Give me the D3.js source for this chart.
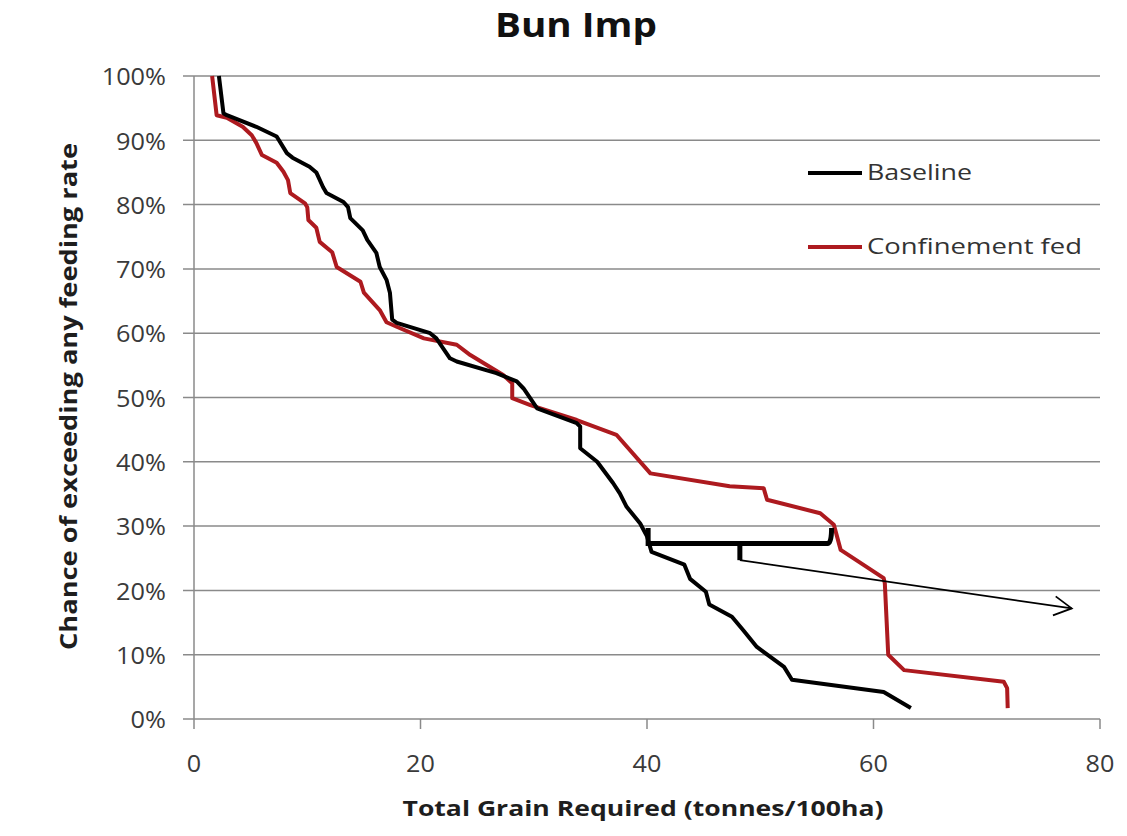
<!DOCTYPE html>
<html>
<head>
<meta charset="utf-8">
<script src="https://cdn.jsdelivr.net/npm/d3@7"></script>
<style>
  html, body { margin: 0; padding: 0; background: #fff; }
  svg { display: block; font-family: "Open Sans", Lato, sans-serif; }
</style>
</head>
<body>
<svg id="chart" width="1127" height="836"></svg>
<script>
// ---- Data ----
const xTicks = [0, 20, 40, 60, 80];
const yTicks = [0, 10, 20, 30, 40, 50, 60, 70, 80, 90, 100];

const baselineX = [2.2, 2.6, 2.9, 5.5, 7.3, 8.2, 8.7, 10.2, 10.8, 11.4, 11.7, 13.2, 13.6, 13.8, 14.9, 15.3, 16.1, 16.4, 17.0, 17.3, 17.5, 17.9, 20.85, 21.4, 22.6, 23.2, 26.7, 28.5, 29.1, 30.3, 33.8, 34.1, 34.1, 35.6, 37.0, 37.6, 38.2, 39.4, 40.0, 40.4, 43.3, 43.8, 45.2, 45.5, 47.5, 48.5, 49.7, 52.1, 52.8, 60.9, 63.3];
const baselineY = [100, 94.2, 93.9, 92.1, 90.6, 88.0, 87.3, 85.9, 85.0, 82.7, 81.8, 80.4, 79.6, 77.9, 76.0, 74.5, 72.5, 70.3, 68.3, 66.3, 62.1, 61.6, 60.0, 59.2, 56.1, 55.6, 53.8, 52.5, 51.4, 48.3, 46.0, 45.5, 42.1, 40.0, 36.7, 35.1, 33.0, 30.4, 28.4, 26.0, 24.0, 21.8, 19.8, 17.8, 15.9, 13.8, 11.2, 8.1, 6.1, 4.2, 1.7];

const confinedX = [1.6, 2.0, 2.9, 4.3, 5.1, 5.5, 6.0, 7.3, 7.9, 8.3, 8.5, 9.8, 10.0, 10.1, 10.8, 11.1, 12.2, 12.6, 14.7, 15.0, 16.4, 17.0, 17.9, 20.3, 23.2, 24.4, 27.3, 28.1, 28.1, 29.7, 33.8, 37.3, 40.3, 47.3, 50.3, 50.6, 55.3, 56.5, 57.1, 60.9, 61.0, 61.3, 62.7, 71.5, 71.8, 71.85];
const confinedY = [100, 93.9, 93.5, 92.1, 90.8, 89.6, 87.7, 86.5, 85.1, 83.8, 81.8, 80.2, 79.6, 77.6, 76.4, 74.2, 72.6, 70.3, 68.0, 66.3, 63.6, 61.7, 61.0, 59.2, 58.2, 56.6, 53.5, 52.2, 49.9, 48.8, 46.5, 44.2, 38.2, 36.2, 35.9, 34.1, 32.0, 30.2, 26.3, 21.9, 21.1, 10.0, 7.6, 5.8, 4.8, 1.7];

const seriesNames = ["Baseline", "Confinement fed"];
const seriesColors = ["#000000", "#ad1a1f"];

// Hand-drawn annotation (bracket + arrow), in data units
const bracketX = [40.1, 56.3];
const bracketY = [29.7, 27.3];
const stemX = 48.2;
const stemBottomY = 24.7;
const arrowTip = [77.5, 17.2];

// ---- Layout ----
const svg = d3.select("#chart");
const m = { left: 194, right: 1100, top: 76, bottom: 719 };

const x = d3.scaleLinear().domain([0, 80]).range([m.left, m.right]);
const y = d3.scaleLinear().domain([0, 100]).range([m.bottom, m.top]);

// stretch helper: widen text horizontally like the reference
function stretch(sel, k) {
  sel.each(function () {
    const w = this.getComputedTextLength();
    d3.select(this).attr("textLength", w * k).attr("lengthAdjust", "spacingAndGlyphs");
  });
}

// gridlines
svg.append("g").selectAll("line").data(yTicks).join("line")
  .attr("x1", m.left - 11).attr("x2", m.right)
  .attr("y1", d => y(d)).attr("y2", d => y(d))
  .attr("stroke", "#8a8a8a").attr("stroke-width", 1.5);

// y axis line
svg.append("line")
  .attr("x1", m.left).attr("x2", m.left)
  .attr("y1", m.top).attr("y2", m.bottom)
  .attr("stroke", "#8a8a8a").attr("stroke-width", 1.5);

// x ticks
svg.append("g").selectAll("line").data(xTicks).join("line")
  .attr("x1", d => x(d)).attr("x2", d => x(d))
  .attr("y1", m.bottom).attr("y2", m.bottom + 10)
  .attr("stroke", "#8a8a8a").attr("stroke-width", 1.5);

// tick labels
svg.append("g").selectAll("text").data(yTicks).join("text")
  .attr("x", 166).attr("y", d => y(d) + 1)
  .attr("dy", "0.36em").attr("text-anchor", "end")
  .attr("font-size", 23).attr("fill", "#3a3a3a")
  .text(d => d + "%")
  .call(stretch, 1.1);

svg.append("g").selectAll("text").data(xTicks).join("text")
  .attr("x", d => x(d)).attr("y", 772)
  .attr("text-anchor", "middle")
  .attr("font-size", 24).attr("fill", "#3a3a3a")
  .text(d => d)
  .call(stretch, 1.05);

// title
svg.append("text").attr("x", 576).attr("y", 37)
  .attr("text-anchor", "middle").attr("font-size", 34).attr("font-weight", "bold")
  .attr("fill", "#111").text("Bun Imp")
  .attr("textLength", 162).attr("lengthAdjust", "spacingAndGlyphs");

// axis titles
svg.append("text").attr("x", 643).attr("y", 816)
  .attr("text-anchor", "middle").attr("font-size", 22).attr("font-weight", "bold")
  .attr("fill", "#1e1e1e").text("Total Grain Required (tonnes/100ha)")
  .attr("textLength", 481).attr("lengthAdjust", "spacingAndGlyphs");

svg.append("text")
  .attr("transform", `translate(77,${(143 + 650) / 2}) rotate(-90)`)
  .attr("text-anchor", "middle").attr("font-size", 23).attr("font-weight", "bold")
  .attr("fill", "#1e1e1e").text("Chance of exceeding any feeding rate")
  .attr("textLength", 507).attr("lengthAdjust", "spacingAndGlyphs");

// lines
const line = d3.line().x(d => x(d[0])).y(d => y(d[1]));
const series = [
  d3.zip(baselineX, baselineY),
  d3.zip(confinedX, confinedY)
];
svg.append("path").datum(series[1]).attr("d", line)
  .attr("fill", "none").attr("stroke", seriesColors[1]).attr("stroke-width", 4)
  .attr("stroke-linejoin", "round");
svg.append("path").datum(series[0]).attr("d", line)
  .attr("fill", "none").attr("stroke", seriesColors[0]).attr("stroke-width", 4)
  .attr("stroke-linejoin", "round");

// annotation bracket
const bracket = d3.path();
bracket.moveTo(x(bracketX[0]), y(bracketY[0]));
bracket.lineTo(x(bracketX[0]), y(bracketY[1]));
bracket.lineTo(x(bracketX[1]) - 4, y(bracketY[1]));
bracket.quadraticCurveTo(x(bracketX[1]), y(bracketY[1]), x(bracketX[1]), y(bracketY[0]));
svg.append("path").attr("d", bracket.toString())
  .attr("fill", "none").attr("stroke", "#000").attr("stroke-width", 5);
svg.append("line")
  .attr("x1", x(stemX)).attr("x2", x(stemX))
  .attr("y1", y(bracketY[1])).attr("y2", y(stemBottomY))
  .attr("stroke", "#000").attr("stroke-width", 5);

// arrow
svg.append("line")
  .attr("x1", x(stemX)).attr("y1", y(stemBottomY))
  .attr("x2", x(arrowTip[0])).attr("y2", y(arrowTip[1]))
  .attr("stroke", "#000").attr("stroke-width", 1.8);
{
  const x1 = x(stemX), y1 = y(stemBottomY), x2 = x(arrowTip[0]), y2 = y(arrowTip[1]);
  const ang = Math.atan2(y2 - y1, x2 - x1);
  const L = 20, spread = 0.5;
  const p = d3.path();
  p.moveTo(x2 - L * Math.cos(ang - spread), y2 - L * Math.sin(ang - spread));
  p.lineTo(x2, y2);
  p.lineTo(x2 - L * Math.cos(ang + spread), y2 - L * Math.sin(ang + spread));
  svg.append("path").attr("d", p.toString())
    .attr("fill", "none").attr("stroke", "#000").attr("stroke-width", 1.8);
}

// legend
const legendY = [173, 247];
const legendW = [105, 215];
seriesNames.forEach((name, i) => {
  svg.append("line")
    .attr("x1", 808).attr("x2", 862)
    .attr("y1", legendY[i]).attr("y2", legendY[i])
    .attr("stroke", seriesColors[i]).attr("stroke-width", 4);
  svg.append("text")
    .attr("x", 867).attr("y", legendY[i] + 7)
    .attr("font-size", 22).attr("fill", "#333").text(name)
    .attr("textLength", legendW[i]).attr("lengthAdjust", "spacingAndGlyphs");
});
</script>
</body>
</html>
